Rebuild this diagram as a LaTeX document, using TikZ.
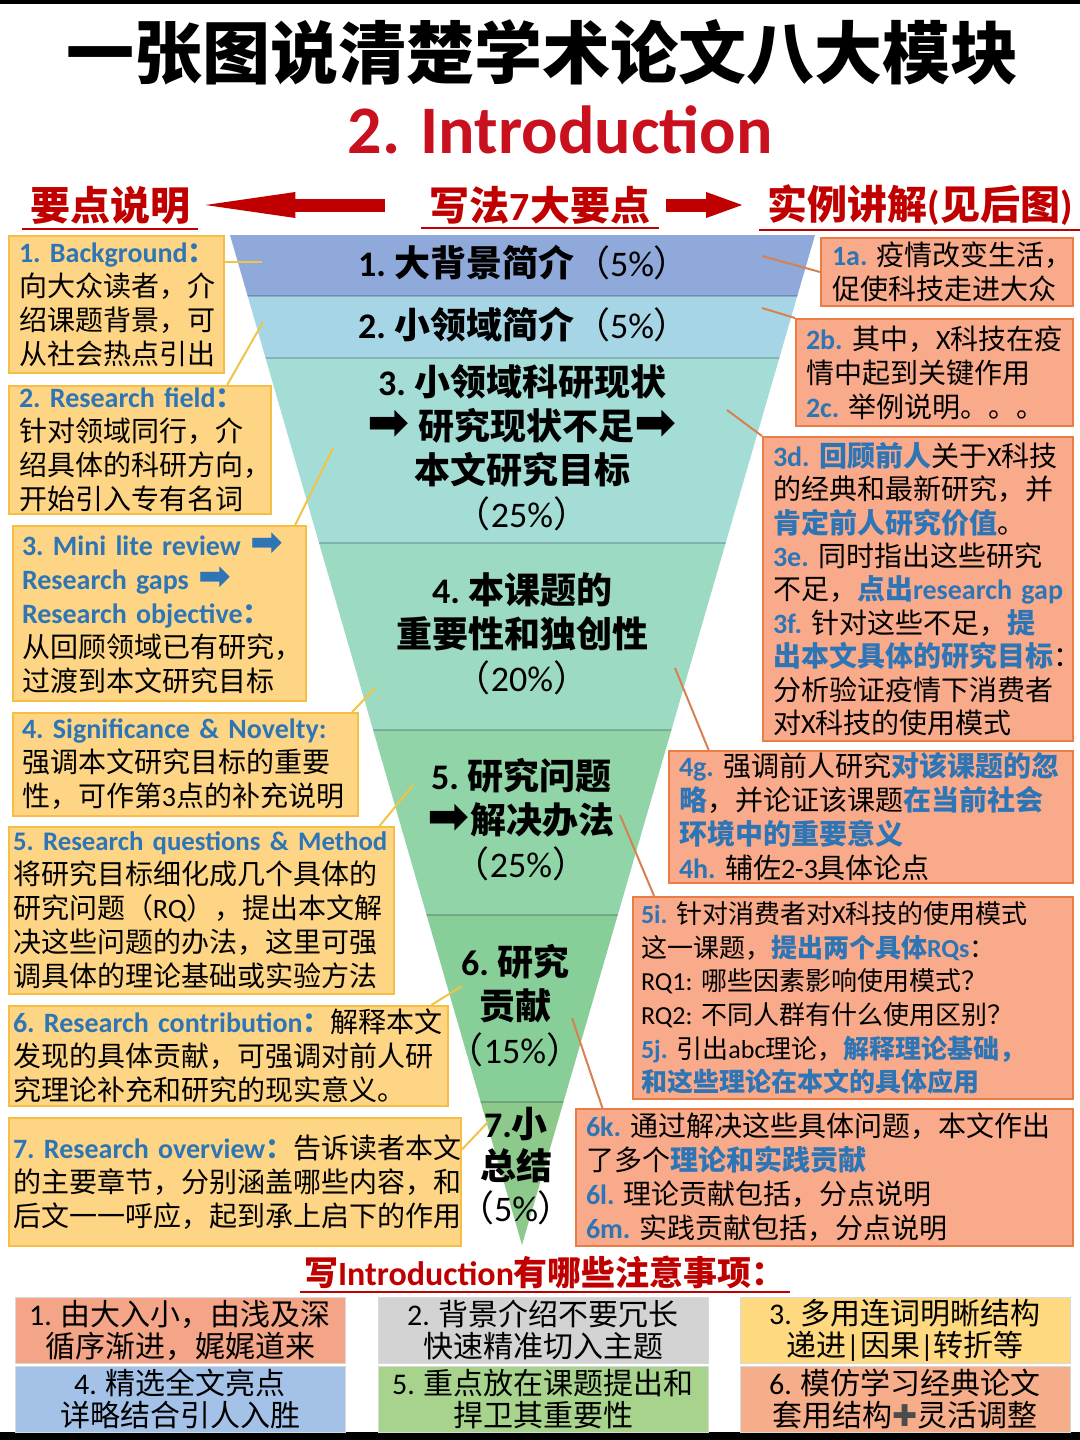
\documentclass[tikz,border=0pt]{standalone}
\usepackage{fontspec}
\usepackage{graphicx}
\usepackage{xcolor}
\usepackage{tikz}
\usetikzlibrary{arrows.meta,calc,positioning}
\setmainfont{Carlito}
\newfontfamily\cjkf{Noto Sans CJK SC}
\newfontfamily\latf{Carlito}
\newfontfamily\dingf{DejaVu Sans}
\hyphenpenalty=10000
\exhyphenpenalty=10000
% CJK characters go to class 1, dingbat arrows to class 2
\newcount\cjkcode
\def\setcjkrange#1#2{\cjkcode=#1\relax
  \loop\XeTeXcharclass\cjkcode=1\relax
  \ifnum\cjkcode<#2\relax\advance\cjkcode by 1\repeat}
\setcjkrange{"4E00}{"9FFF}
\setcjkrange{"3000}{"303F}
\setcjkrange{"FF00}{"FFEF}
\XeTeXcharclass"27A1=2
\XeTeXcharclass"271A=2
\XeTeXinterchartoks 0 1 = {\cjkf}
\XeTeXinterchartoks 4095 1 = {\cjkf}
\XeTeXinterchartoks 2 1 = {\cjkf}
\XeTeXinterchartoks 1 0 = {\latf}
\XeTeXinterchartoks 4095 0 = {\latf}
\XeTeXinterchartoks 2 0 = {\latf}
\XeTeXinterchartoks 0 2 = {\dingf}
\XeTeXinterchartoks 1 2 = {\dingf}
\XeTeXinterchartoks 4095 2 = {\dingf}
\definecolor{titlered}{RGB}{192, 0, 0}
\definecolor{introred}{RGB}{200, 16, 30}
\definecolor{hlblue}{RGB}{46, 117, 182}
\definecolor{lboxfill}{RGB}{253, 213, 132}
\definecolor{lboxline}{RGB}{246, 190, 66}
\definecolor{rboxfill}{RGB}{248, 170, 138}
\definecolor{rboxline}{RGB}{234, 125, 70}
\definecolor{ylinkcol}{RGB}{240, 196, 70}
\definecolor{rlinkcol}{RGB}{214, 130, 80}
\definecolor{bandA}{RGB}{143, 169, 219}
\definecolor{bandB}{RGB}{166, 214, 230}
\definecolor{bandC}{RGB}{163, 221, 214}
\definecolor{bandD}{RGB}{156, 218, 194}
\definecolor{bandE}{RGB}{144, 212, 168}
\definecolor{bandF}{RGB}{136, 206, 153}
\definecolor{bandG}{RGB}{140, 201, 138}
\definecolor{tipA}{RGB}{244, 165, 135}
\definecolor{tipB}{RGB}{211, 211, 211}
\definecolor{tipC}{RGB}{255, 217, 128}
\definecolor{tipD}{RGB}{164, 194, 232}
\definecolor{tipE}{RGB}{168, 211, 140}
\definecolor{tipF}{RGB}{246, 174, 138}
\newcommand\lbl[1]{{\latf\bfseries\color{hlblue}#1}}
\newcommand\hl[1]{{\bfseries\color{hlblue}#1}}
\newcommand\harr{\scalebox{1.4}{➡}}

\begin{document}
\XeTeXinterchartokenstate=1
\begin{tikzpicture}[x=0.5pt, y=-0.5pt,
    lbox/.style={draw=lboxline, fill=lboxfill, line width=1pt, anchor=north west,
      align=left, inner ysep=0pt, font=\fontsize{14}{17}\selectfont},
    rbox/.style={draw=rboxline, fill=rboxfill, line width=1pt, anchor=north west,
      align=left, inner ysep=0pt, font=\fontsize{14}{17}\selectfont},
    ylink/.style={draw=ylinkcol, line width=1pt},
    rlink/.style={draw=rlinkcol, line width=1pt},
    ftext/.style={align=center, inner sep=0pt, font=\fontsize{18}{22}\selectfont\bfseries},
    head/.style={text=titlered, inner xsep=4pt, inner ysep=2pt, font=\fontsize{20}{24}\selectfont\bfseries},
    bigarrow/.style={draw=titlered, line width=6.5pt, -{Triangle[length=#1, width=13pt, line width=0pt]}},
    cell/.style={draw=black!15, minimum width=165pt, minimum height=33pt, inner sep=0pt,
      align=center, font=\fontsize{15}{16}\selectfont}]
    \useasboundingbox (0,0) rectangle (1080,1440);
    \fill[white] (0,0) rectangle (1080,1440);
    \fill[black] (0,0) rectangle (1080,4);
    \fill[black] (0,1432) rectangle (1080,1440);

    % Titles
    \node[font=\fontsize{34}{40}\selectfont\bfseries] (title) at (542,52) {一张图说清楚学术论文八大模块};
    \node[font=\fontsize{34}{40}\selectfont\bfseries, text=introred] (sub) at (560,130) {2. Introduction};

    % Column heads with arrows
    \node[head] (hL) at (110,205) {要点说明};
    \node[head] (hM) at (540,205) {写法7大要点};
    \node[head] (hR) at (920,205) {实例讲解(见后图)};
    \foreach \h in {hL,hM,hR}
        \draw[titlered, line width=1pt] (\h.south west) -- (\h.south east);
    \draw[bigarrow=45pt, shorten <=18pt, shorten >=3.5pt] (hM.west) -- (hL.east);
    \draw[bigarrow=18pt, shorten <=3.5pt, shorten >=8.5pt] (hM.east) -- (hR.west);

    % Funnel
    \coordinate (TL) at (230,235);
    \coordinate (TR) at (815,235);
    \coordinate (A) at (522,1245);
    \begin{scope}
        \clip (TL) -- (TR) -- (A) -- cycle;
        \foreach \ya/\yb/\col in {235/296/bandA, 296/358/bandB, 358/543/bandC, 543/730/bandD,
                                  730/915/bandE, 915/1102/bandF, 1102/1245/bandG}
            \fill[\col] (200,\ya) rectangle (840,\yb);
        \foreach \yy in {296,358,543,730,915,1102}
            \draw[black, opacity=0.18, line width=1pt] (200,\yy) -- (840,\yy);
    \end{scope}

    % Funnel texts
    \node[ftext] (f1) at (524,263) {1.~大背景简介{\mdseries （5\%）}};
    \node[ftext] (f2) at (524,325) {2.~小领域简介{\mdseries （5\%）}};
    \node[ftext] (f3) at (522,448) {3.~小领域科研现状\\\harr{}~研究现状不足\harr{}\\本文研究目标\\{\mdseries （25\%）}};
    \node[ftext] (f4) at (522,634) {4.~本课题的\\重要性和独创性\\{\mdseries （20\%）}};
    \node[ftext] (f5) at (521,820) {5.~研究问题\\\harr{}解决办法\\{\mdseries （25\%）}};
    \node[ftext] (f6) at (515,1006) {6.~研究\\贡献\\{\mdseries （15\%）}};
    \node[ftext, font=\fontsize{18}{21}\selectfont\bfseries] (f7) at (516,1166) {7.小\\总结\\{\mdseries （5\%）}};

    % Connector ends inside the funnel
    \coordinate (lp1) at (262,262);
    \coordinate (lp2) at (263,322);
    \coordinate (lp3) at (333,448);
    \coordinate (lp4) at (375,688);
    \coordinate (lp5) at (413,785);
    \coordinate (lp6) at (462,986);
    \coordinate (lp7) at (488,1122);
    \coordinate (rp1) at (762,256);
    \coordinate (rp2) at (762,308);
    \coordinate (rp3) at (727,410);
    \coordinate (rp4) at (675,668);
    \coordinate (rp5) at (620,815);
    \coordinate (rp6) at (572,1018);

    % Left boxes: key points
    \node[lbox, minimum width=107.5pt, minimum height=68.5pt, text width=97.5pt, inner xsep=5pt] (b1) at (8,235)
        {\lbl{1.~Background：}\\向大众读者，介\\绍课题背景，可\\从社会热点引出};
    \node[lbox, minimum width=131pt, minimum height=64pt, text width=121pt, inner xsep=5pt] (b2) at (8,385)
        {\lbl{2.~Research~field：}\\针对领域同行，介\\绍具体的科研方向，\\开始引入专有名词};
    \node[lbox, minimum width=146.5pt, minimum height=87.5pt, text width=137.5pt, inner xsep=4.5pt] (b3) at (12,525)
        {\lbl{3.~Mini~lite~review~\harr}\\\lbl{Research~gaps~\harr}\\\lbl{Research~objective：}\\从回顾领域已有研究，\\过渡到本文研究目标};
    \node[lbox, minimum width=172.5pt, minimum height=51.5pt, text width=163.5pt, inner xsep=4.5pt] (b4) at (12,712)
        {\lbl{4.~Significance~\&~Novelty:}\\强调本文研究目标的重要\\性，可作第3点的补充说明};
    \node[lbox, minimum width=192.5pt, minimum height=83.5pt, text width=188.5pt, inner xsep=2pt] (b5) at (8,826)
        {\lbl{\fontsize{13.4}{17}\selectfont 5.~Research~questions~\&~Method}\\将研究目标细化成几个具体的\\研究问题（RQ），提出本文解\\决这些问题的办法，这里可强\\调具体的理论基础或实验方法};
    \node[lbox, minimum width=219.5pt, minimum height=50pt, text width=215.5pt, inner xsep=2pt] (b6) at (8,1005)
        {\lbl{6.~Research~contribution：}解释本文\\发现的具体贡献，可强调对前人研\\究理论补充和研究的现实意义。};
    \node[lbox, minimum width=226pt, minimum height=64pt, text width=222pt, inner xsep=2pt] (b7) at (8,1117)
        {\lbl{7.~Research~overview：}告诉读者本文\\的主要章节，分别涵盖哪些内容，和\\后文一一呼应，起到承上启下的作用};

    % Right boxes: worked example
    \node[rbox, minimum width=126pt, minimum height=34pt, text width=115pt, inner xsep=5.5pt] (r1) at (820,237)
        {\lbl{1a.}~疫情改变生活，\\促使科技走进大众};
    \node[rbox, minimum width=138.5pt, minimum height=53.5pt, text width=128.5pt, inner xsep=5pt] (r2) at (795,318)
        {\lbl{2b.}~其中，X科技在疫\\情中起到关键作用\\\lbl{2c.}~举例说明。。。};
    \node[rbox, minimum width=155pt, minimum height=152pt, text width=145pt, inner xsep=5pt,
          font=\fontsize{14}{16.7}\selectfont] (r3) at (762,436)
        {\lbl{3d.}~\hl{回顾前人}关于X科技\\的经典和最新研究，并\\\hl{肯定前人研究价值}。\\\lbl{3e.}~同时指出这些研究\\不足，\hl{点出research~gap}\\\lbl{3f.}~针对这些不足，\hl{提}\\\hl{出本文具体的研究目标}：\\分析验证疫情下消费者\\对X科技的使用模式};
    \node[rbox, minimum width=202pt, minimum height=66pt, text width=192pt, inner xsep=5pt] (r4) at (668,750)
        {\lbl{4g.}~强调前人研究\hl{对该课题的忽}\\\hl{略}，并论证该课题\hl{在当前社会}\\\hl{环境中的重要意义}\\\lbl{4h.}~辅佐2-3具体论点};
    \node[rbox, minimum width=220pt, minimum height=101pt, text width=212pt, inner xsep=4pt,
          font=\fontsize{13}{16.8}\selectfont] (r5) at (632,896)
        {\lbl{5i.}~针对消费者对X科技的使用模式\\这一课题，\hl{提出两个具体RQs}：\\RQ1:~哪些因素影响使用模式？\\RQ2:~不同人群有什么使用区别？\\\lbl{5j.}~引出abc理论，\hl{解释理论基础，}\\\hl{和这些理论在本文的具体应用}};
    \node[rbox, minimum width=248.5pt, minimum height=68.5pt, text width=238.5pt, inner xsep=5pt] (r6) at (575,1108)
        {\lbl{6k.}~通过解决这些具体问题，本文作出\\了多个\hl{理论和实践贡献}\\\lbl{6l.}~理论贡献包括，分点说明\\\lbl{6m.}~实践贡献包括，分点说明};

    % Connectors from boxes to funnel layers
    \draw[ylink] (b1.east |- lp1) -- (lp1);
    \draw[ylink] ($(b2.north west)!0.83!(b2.north east)$) -- (lp2);
    \draw[ylink] ($(b3.north west)!0.96!(b3.north east)$) -- (lp3);
    \draw[ylink] ($(b4.north west)!0.98!(b4.north east)$) -- (lp4);
    \draw[ylink] ($(b5.north west)!0.96!(b5.north east)$) -- (lp5);
    \draw[ylink] ($(b6.north west)!0.96!(b6.north east)$) -- (lp6);
    \draw[ylink] ($(b7.north east)!0.25!(b7.south east)$) -- (lp7);
    \draw[rlink] (rp1) -- (r1.west);
    \draw[rlink] (rp2) -- (r2.north west);
    \draw[rlink] (rp3) -- (r3.north west);
    \draw[rlink] (rp4) -- ($(r4.north west)!0.1!(r4.north east)$);
    \draw[rlink] (rp5) -- ($(r5.north west)!0.05!(r5.north east)$);
    \draw[rlink] (rp6) -- ($(r6.north west)!0.055!(r6.north east)$);

    % Notes for writing the introduction
    \node[text=titlered, inner xsep=2pt, inner ysep=1.5pt, font=\fontsize{17}{20}\selectfont\bfseries] (notes) at (545,1272)
        {写Introduction有哪些注意事项：};
    \draw[titlered, line width=1pt] (notes.south west) -- (notes.south east);
    \node[cell, fill=tipA] (c1) at (180,1330) {1. 由大入小，由浅及深\\循序渐进，娓娓道来};
    \node[cell, fill=tipB] (c2) at (543,1330) {2. 背景介绍不要冗长\\快速精准切入主题};
    \node[cell, fill=tipC] (c3) at (905,1330) {3. 多用连词明晰结构\\递进|因果|转折等};
    \node[cell, fill=tipD] (c4) at (180,1399) {4. 精选全文亮点\\详略结合引人入胜};
    \node[cell, fill=tipE] (c5) at (543,1399) {5. 重点放在课题提出和\\捍卫其重要性};
    \node[cell, fill=tipF] (c6) at (905,1399) {6. 模仿学习经典论文\\套用结构{\color{black!70}✚}灵活调整};
\end{tikzpicture}
\end{document}
